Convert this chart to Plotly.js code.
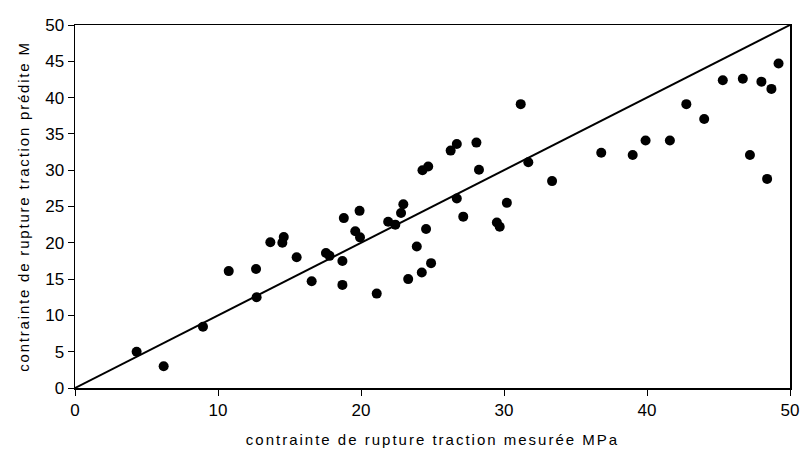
<!DOCTYPE html>
<html>
<head>
<meta charset="utf-8">
<script src="https://cdn.plot.ly/plotly-3.0.1.min.js"></script>
<style>
html,body{margin:0;padding:0;background:#fff;}
#chart{width:801px;height:453px;}
#chart .xtitle{letter-spacing:2.0px;}
#chart .ytitle{letter-spacing:1.8px;}
</style>
</head>
<body>
<div id="chart"></div>
<script>
const measured = [4.31, 6.2, 8.95, 10.75, 12.66, 12.7, 13.66, 14.5, 14.6, 15.5, 16.55, 17.55, 17.8, 18.8, 18.7, 18.7, 19.9, 19.6, 19.93, 21.1, 21.9, 22.4, 22.8, 22.96, 23.3, 23.9, 24.25, 24.3, 24.7, 24.55, 24.9, 26.27, 26.7, 26.7, 27.15, 28.07, 28.25, 29.5, 29.7, 30.2, 31.17, 31.7, 33.36, 36.8, 39.0, 39.9, 41.6, 42.75, 44.0, 45.3, 46.7, 47.2, 48.0, 48.4, 48.7, 49.2];
const predicted = [5.0, 3.0, 8.44, 16.1, 16.4, 12.5, 20.07, 20.0, 20.8, 18.0, 14.7, 18.6, 18.2, 23.4, 17.5, 14.2, 24.4, 21.6, 20.75, 13.0, 22.9, 22.5, 24.1, 25.3, 15.0, 19.5, 15.9, 30.0, 30.5, 21.9, 17.2, 32.7, 33.6, 26.1, 23.6, 33.8, 30.07, 22.8, 22.2, 25.5, 39.1, 31.1, 28.5, 32.4, 32.1, 34.1, 34.1, 39.1, 37.05, 42.4, 42.6, 32.1, 42.2, 28.8, 41.2, 44.7];
const lineX = [0, 50];
const lineY = [0, 50];
const xTicks = [0, 10, 20, 30, 40, 50];
const yTicks = [0, 5, 10, 15, 20, 25, 30, 35, 40, 45, 50];
const xTitle = 'contrainte de rupture traction mesurée MPa';
const yTitle = 'contrainte de rupture traction prédite M';

const font = {family: 'Liberation Sans, Arial, sans-serif', color: '#000'};
const traces = [
  {x: lineX, y: lineY, mode: 'lines', line: {color: '#000', width: 2}, hoverinfo: 'skip', showlegend: false},
  {x: measured, y: predicted, mode: 'markers', marker: {color: '#000', size: 10}, showlegend: false}
];
const axisBase = {
  showgrid: false, zeroline: false, showline: true, linecolor: '#000', linewidth: 1.5,
  mirror: true, ticks: 'outside', ticklen: 6, tickcolor: '#000', tickwidth: 1,
  tickfont: Object.assign({size: 17}, font)
};
const layout = {
  width: 801, height: 453,
  margin: {l: 75, r: 11, t: 25, b: 65},
  paper_bgcolor: '#fff', plot_bgcolor: '#fff',
  font: font,
  xaxis: Object.assign({}, axisBase, {
    range: [0, 50], tickvals: xTicks,
    title: {text: xTitle, font: Object.assign({size: 15}, font), standoff: 15}
  }),
  yaxis: Object.assign({}, axisBase, {
    range: [0, 50], tickvals: yTicks,
    title: {text: yTitle, font: Object.assign({size: 15}, font), standoff: 12}
  })
};
Plotly.newPlot('chart', traces, layout, {displayModeBar: false, staticPlot: true});
</script>
</body>
</html>
